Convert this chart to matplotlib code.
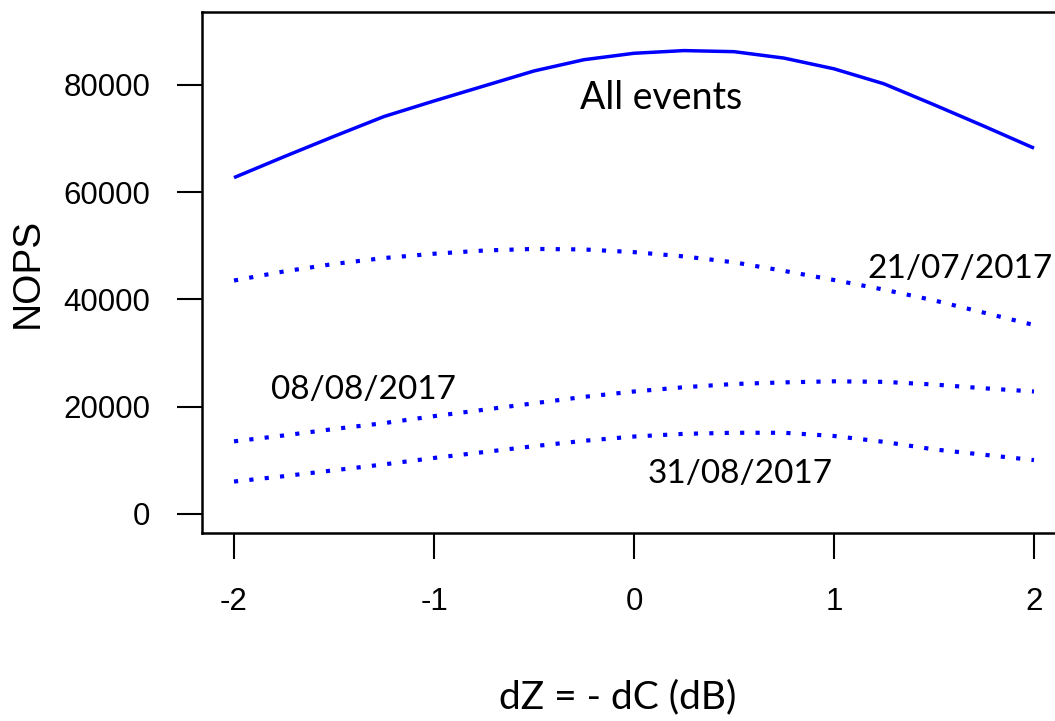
import matplotlib.pyplot as plt
import numpy as np

# dZ steps (dB)
dz = [-2, -1.75, -1.5, -1.25, -1, -0.75, -0.5, -0.25, 0,
      0.25, 0.5, 0.75, 1, 1.25, 1.5, 1.75, 2]

nops_all = [62700, 66600, 70400, 74100, 77000, 79800, 82600, 84700, 85900,
            86400, 86200, 85000, 83000, 80200, 76300, 72300, 68200]
nops_0721 = [43500, 45200, 46600, 47700, 48500, 49100, 49400, 49300, 48800,
             48000, 46900, 45300, 43600, 41800, 39800, 37500, 35200]
nops_0808 = [13500, 14600, 15800, 16900, 18200, 19400, 20600, 21800, 22800,
             23600, 24200, 24500, 24700, 24600, 24100, 23400, 22800]
nops_0831 = [6000, 7000, 8100, 9200, 10400, 11500, 12600, 13600, 14400,
             14900, 15100, 15100, 14500, 13400, 12000, 11000, 10000]

x_ticks = [-2, -1, 0, 1, 2]
y_ticks = [0, 20000, 40000, 60000, 80000]

blue = '#0000ff'
label_font = ['Lato', 'DejaVu Sans']
tick_font = ['Liberation Sans', 'DejaVu Sans']

fig = plt.figure(figsize=(10.55, 7.21), dpi=100)
ax = fig.add_axes([202 / 1055, 188 / 721, 864 / 1055, 521 / 721])

ax.plot(dz, nops_all, color=blue, lw=2.5, solid_capstyle='butt')
dotted = (0, (1.0, 2.7))
for ys in (nops_0721, nops_0808, nops_0831):
    ax.plot(dz, ys, color=blue, lw=3.0, linestyle=dotted, dash_capstyle='butt')

# R-style 4% padding around the plotting range
ax.set_xlim(-2.16, 2.16)
ax.set_ylim(-3600, 93600)

ax.set_xticks(x_ticks)
ax.set_xticklabels([str(v) for v in x_ticks], fontfamily=tick_font, fontsize=22.5)
ax.set_yticks(y_ticks)
ax.set_yticklabels([str(v) for v in y_ticks], fontfamily=tick_font, fontsize=22.5)
ax.tick_params(axis='x', length=19, width=1.5, pad=20)
ax.tick_params(axis='y', length=18, width=1.5, pad=19)
for s in ax.spines.values():
    s.set_linewidth(1.8)

fig.text(28 / 1055, 1 - 273 / 721, 'NOPS', rotation=90, ha='center', va='center',
         fontfamily=tick_font, fontsize=28)
fig.text(618 / 1055, 1 - 697 / 721, 'dZ = - dC (dB)', ha='center', va='center',
         fontfamily=label_font, fontsize=28)

ax.text(0.135, 77500, 'All events', ha='center', va='center',
        fontfamily=label_font, fontsize=27)
ax.text(1.63, 45700, '21/07/2017', ha='center', va='center',
        fontfamily=label_font, fontsize=24)
ax.text(-1.35, 23100, '08/08/2017', ha='center', va='center',
        fontfamily=label_font, fontsize=24)
ax.text(0.53, 7500, '31/08/2017', ha='center', va='center',
        fontfamily=label_font, fontsize=24)

plt.savefig('out.png', dpi=100)
